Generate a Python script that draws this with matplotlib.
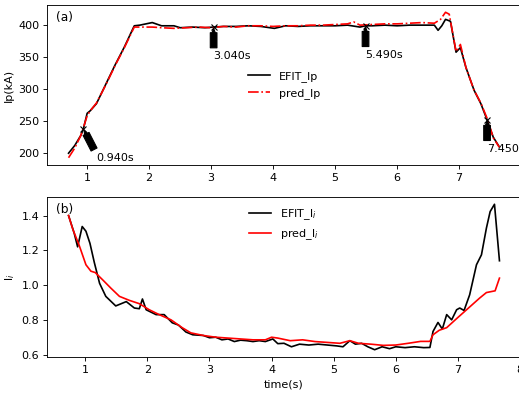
import numpy as np
import matplotlib
matplotlib.use('Agg')
import matplotlib.pyplot as plt

# Ip (kA)
t_efit_ip = [0.70, 0.80, 0.90, 0.94, 1.00, 1.05, 1.15, 1.30, 1.45, 1.60, 1.76, 1.85, 2.05, 2.20,
             2.40, 2.50, 2.70, 2.90, 3.04, 3.20, 3.40, 3.60, 3.80, 4.02, 4.20, 4.40, 4.60, 4.80,
             5.00, 5.20, 5.40, 5.49, 5.60, 5.80, 6.00, 6.20, 6.40, 6.60, 6.66, 6.72, 6.78, 6.86,
             6.95, 7.02, 7.11, 7.24, 7.35, 7.45, 7.55, 7.64]
efit_ip = [200, 212, 228, 238, 262, 266, 277, 307, 337, 365, 398, 399, 403, 398,
           398, 395, 396, 395, 396, 397, 397, 398, 397, 394, 398, 397, 398, 398,
           398, 399, 396, 398, 398, 399, 398, 399, 399, 399, 391, 398, 408, 405,
           357, 364, 333, 298, 277, 252, 225, 211]

t_pred_ip = [0.70, 0.80, 0.90, 0.94, 1.00, 1.05, 1.15, 1.30, 1.45, 1.60, 1.76, 1.85, 2.05, 2.20,
             2.40, 2.60, 2.80, 3.00, 3.20, 3.40, 3.60, 3.80, 4.00, 4.20, 4.40, 4.60, 4.80, 5.00,
             5.20, 5.30, 5.40, 5.60, 5.80, 6.00, 6.20, 6.40, 6.60, 6.70, 6.78, 6.84, 6.95, 7.02,
             7.11, 7.24, 7.35, 7.46, 7.55, 7.65]
pred_ip = [193, 208, 228, 240, 258, 266, 278, 306, 336, 364, 396, 396, 396, 395,
           394, 395, 396, 395, 397, 396, 398, 398, 397, 398, 398, 399, 399, 400,
           401, 404, 399, 400, 401, 401, 402, 403, 402, 408, 419, 416, 358, 369,
           333, 298, 278, 252, 224, 209]

# li
t_efit_li = [0.73, 0.82, 0.876, 0.95, 1.01, 1.075, 1.145, 1.23, 1.33, 1.49, 1.66, 1.79, 1.87, 1.92,
             1.98, 2.14, 2.27, 2.40, 2.50, 2.62, 2.73, 2.90, 3.00, 3.10, 3.20, 3.30, 3.40, 3.50,
             3.60, 3.70, 3.80, 3.90, 4.02, 4.10, 4.20, 4.32, 4.45, 4.60, 4.75, 4.90, 5.05, 5.15,
             5.26, 5.35, 5.45, 5.55, 5.66, 5.78, 5.90, 6.00, 6.15, 6.30, 6.45, 6.55, 6.60, 6.68,
             6.75, 6.82, 6.90, 6.98, 7.03, 7.10, 7.19, 7.30, 7.38, 7.46, 7.52, 7.59, 7.67]
efit_li = [1.40, 1.30, 1.22, 1.337, 1.31, 1.24, 1.13, 1.01, 0.935, 0.88, 0.905, 0.868, 0.864, 0.92,
           0.858, 0.83, 0.83, 0.783, 0.77, 0.73, 0.714, 0.71, 0.697, 0.70, 0.685, 0.69, 0.675, 0.683,
           0.68, 0.675, 0.68, 0.675, 0.69, 0.663, 0.665, 0.645, 0.66, 0.655, 0.66, 0.655, 0.65, 0.645,
           0.68, 0.66, 0.665, 0.645, 0.628, 0.645, 0.634, 0.645, 0.64, 0.645, 0.64, 0.641, 0.733, 0.785,
           0.747, 0.83, 0.80, 0.858, 0.868, 0.854, 0.944, 1.117, 1.174, 1.328, 1.423, 1.465, 1.14]

t_pred_li = [0.73, 0.80, 0.90, 1.01, 1.09, 1.16, 1.28, 1.41, 1.55, 1.71, 1.87, 2.03, 2.19, 2.38,
             2.56, 2.70, 2.90, 3.10, 3.30, 3.50, 3.70, 3.90, 4.00, 4.10, 4.30, 4.50, 4.70, 4.90,
             5.10, 5.26, 5.40, 5.60, 5.80, 6.00, 6.20, 6.40, 6.55, 6.60, 6.70, 6.82, 6.98, 7.14,
             7.35, 7.46, 7.60, 7.67]
pred_li = [1.40, 1.32, 1.23, 1.117, 1.08, 1.072, 1.03, 0.983, 0.935, 0.912, 0.893, 0.858, 0.83, 0.80,
           0.755, 0.725, 0.71, 0.70, 0.695, 0.69, 0.685, 0.685, 0.70, 0.695, 0.68, 0.685, 0.675, 0.67,
           0.665, 0.68, 0.665, 0.66, 0.653, 0.655, 0.665, 0.676, 0.676, 0.714, 0.74, 0.755, 0.807, 0.858,
           0.925, 0.957, 0.967, 1.04]

# marked time slices
t_mark = [0.94, 3.04, 5.49, 7.45]
ip_mark = [238, 396, 398, 252]
dx_text = [0.2, 0.0, 0.0, 0.0]

fig = plt.figure(figsize=(519 / 80, 395 / 80), dpi=80)
ax1 = fig.add_axes([47 / 519, 1 - 165 / 395, 474 / 519, 160 / 395])
ax2 = fig.add_axes([47 / 519, 1 - 357 / 395, 474 / 519, 160 / 395])

ax1.plot(t_efit_ip, efit_ip, 'k-', label='EFIT_Ip')
ax1.plot(t_pred_ip, pred_ip, 'r-.', label='pred_Ip')
ax1.plot(t_mark, ip_mark, 'kx')
for t, ip, dx in zip(t_mark, ip_mark, dx_text):
    ax1.annotate('%.3fs' % t, xy=(t, ip), xytext=(t + dx, ip - 50),
                 arrowprops=dict(facecolor='black', shrink=0.05,
                                 width=6, headwidth=3, headlength=4))
ax1.set_ylabel('Ip(kA)')
ax1.legend(loc='center', frameon=False)
ax1.text(0.02, 0.9, '(a)', transform=ax1.transAxes, fontsize=11)

ax2.plot(t_efit_li, efit_li, 'k-', label='EFIT_l$_i$')
ax2.plot(t_pred_li, pred_li, 'r-', label='pred_l$_i$')
ax2.set_ylabel('l$_i$')
ax2.set_xlabel('time(s)')
ax2.legend(loc='upper center', frameon=False)
ax2.text(0.02, 0.9, '(b)', transform=ax2.transAxes, fontsize=11)

fig.savefig('out.png', dpi=80)
